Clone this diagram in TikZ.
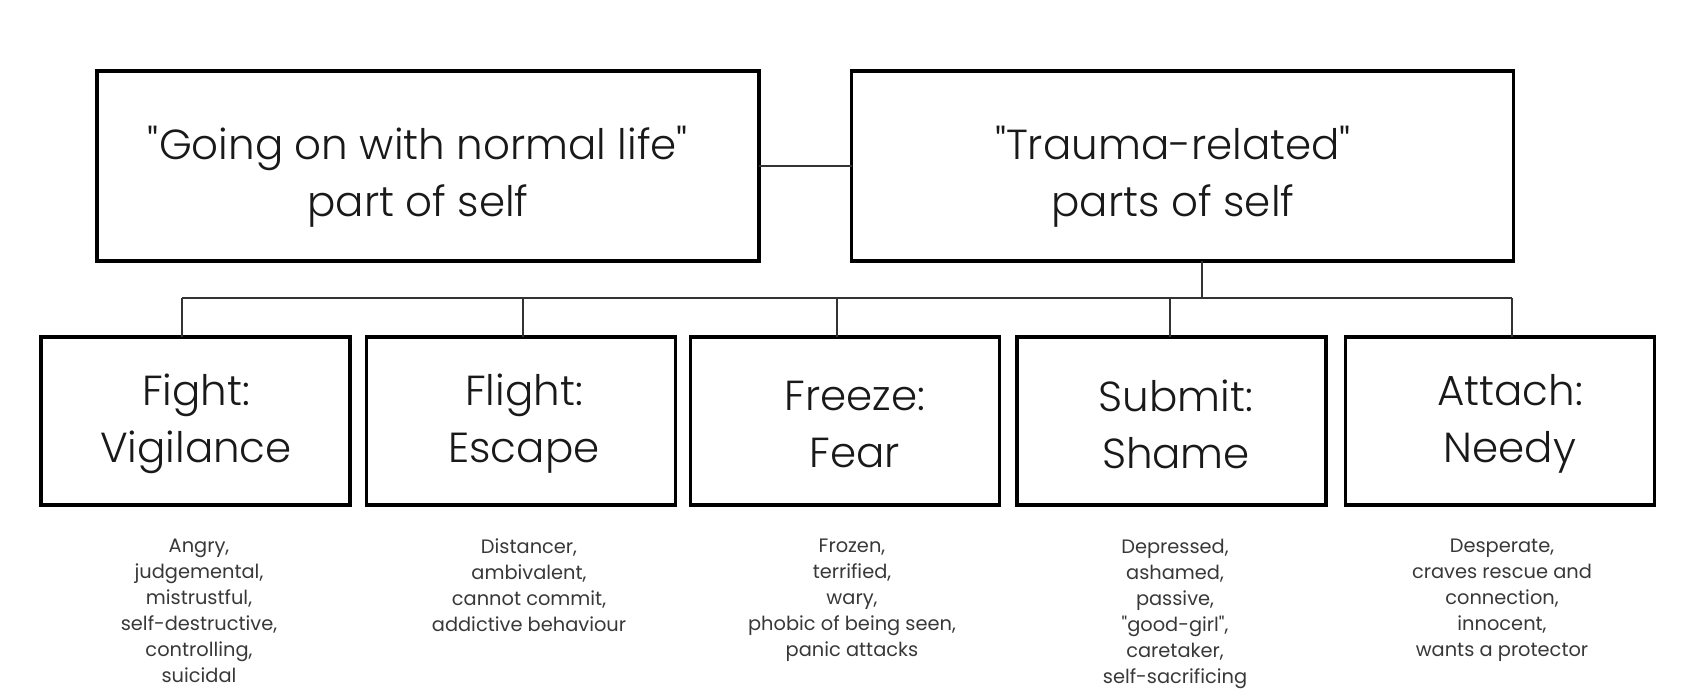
\documentclass[tikz,border=0pt]{standalone}
\usepackage{fontspec}
\setmainfont{Poppins}
\newfontfamily\lightfont{Poppins Light}
\begin{document}
\begin{tikzpicture}[x=0.5pt,y=-0.5pt,
  topbox/.style={draw=black,line width=1.8pt,minimum width=331pt,minimum height=95pt,inner sep=0pt,outer sep=0pt},
  subbox/.style={draw=black,line width=1.8pt,minimum width=154.5pt,minimum height=84pt,inner sep=0pt,outer sep=0pt},
  bigtext/.style={align=center,font=\lightfont\fontsize{21}{28.5}\selectfont,text=black!90},
  desc/.style={align=center,anchor=north,font=\fontsize{9.7}{13}\selectfont,text=black!78},
  conn/.style={line width=1pt,draw=black!80}]
\useasboundingbox (0,0) rectangle (1693,699);
% top boxes
\node[topbox] (normal) at (428,166) {};
\node[topbox] (trauma) at (1182.5,166) {};
\node[bigtext] (normaltxt) at (418,177) {\textquotedbl Going on with normal life\textquotedbl\\part of self};
\node[bigtext] (traumatxt) at (1173,177) {\textquotedbl Trauma-related\textquotedbl\\parts of self};
% bottom boxes
\node[subbox] (fight) at (195.5,421) {};
\node[subbox] (flight) at (521,421) {};
\node[subbox] (freeze) at (845,421) {};
\node[subbox] (submit) at (1171.75,421) {};
\node[subbox] (attach) at (1500,421) {};
\node[bigtext] (fighttxt) at (196,424) {Fight:\\Vigilance};
\node[bigtext] (flighttxt) at (524,424) {Flight:\\Escape};
\node[bigtext] (freezetxt) at (855,424) {Freeze:\\Fear};
\node[bigtext] (submittxt) at (1176,424) {Submit:\\Shame};
\node[bigtext] (attachtxt) at (1510,424) {Attach:\\Needy};
% descriptions
\node[desc] (fightd) at (199,532) {Angry,\\judgemental,\\mistrustful,\\self-destructive,\\controlling,\\suicidal};
\node[desc] (flightd) at (529,532) {Distancer,\\ambivalent,\\cannot commit,\\addictive behaviour};
\node[desc] (freezed) at (852,532) {Frozen,\\terrified,\\wary,\\phobic of being seen,\\panic attacks};
\node[desc] (submitd) at (1175,532) {Depressed,\\ashamed,\\passive,\\\textquotedbl good-girl\textquotedbl,\\caretaker,\\self-sacrificing};
\node[desc] (attachd) at (1502,532) {Desperate,\\craves rescue and\\connection,\\innocent,\\wants a protector};
% connectors
\draw[conn] (normal.east) -- (trauma.west);
\coordinate (tb) at (1202,298);
\coordinate (busL) at (182,298);
\coordinate (busR) at (1512,298);
\coordinate (d2) at (523,298);
\coordinate (d3) at (837,298);
\coordinate (d4) at (1170,298);
\draw[conn] (trauma.south -| tb) -- (tb);
\draw[conn] (busL) -- (busR);
\draw[conn] (busL) -- (busL |- fight.north);
\draw[conn] (d2) -- (d2 |- flight.north);
\draw[conn] (d3) -- (d3 |- freeze.north);
\draw[conn] (d4) -- (d4 |- submit.north);
\draw[conn] (busR) -- (busR |- attach.north);
\end{tikzpicture}
\end{document}
